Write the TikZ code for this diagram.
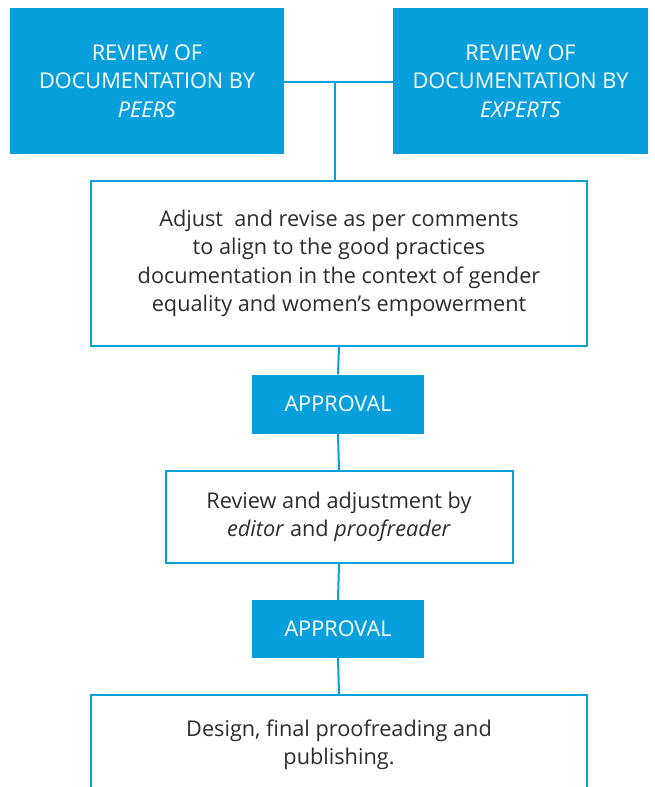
\documentclass[tikz,border=0pt]{standalone}
\usepackage{fontspec}
\setmainfont{Open Sans}
\definecolor{unblue}{RGB}{7,159,220}
\definecolor{ink}{RGB}{45,45,45}
\begin{document}
\begin{tikzpicture}[x=1pt,y=-1pt,
  bluebox/.style={fill=unblue,text=white,align=center,inner sep=0pt,
    font=\fontsize{21.7}{28.5}\selectfont},
  linebox/.style={draw=unblue,line width=2pt,fill=white,text=ink,align=center,inner sep=0pt,
    font=\fontsize{21.7}{28.5}\selectfont},
  link/.style={draw=unblue,line width=2pt}]
\useasboundingbox (0,0) rectangle (654,787);
\clip (0,0) rectangle (654,787);
\node[bluebox,minimum width=274pt,minimum height=146pt] (peers) at (147,81)
  {REVIEW OF\\DOCUMENTATION BY\\\textit{PEERS}};
\node[bluebox,minimum width=255pt,minimum height=146pt] (experts) at (520.5,81)
  {REVIEW OF\\DOCUMENTATION BY\\\textit{EXPERTS}};
\node[linebox,minimum width=496pt,minimum height=165pt] (adjust) at (339,263.5)
  {Adjust~ and revise as per comments\\to align to the good practices\\documentation in the context of gender\\equality and women’s empowerment};
\node[bluebox,minimum width=172pt,minimum height=59pt] (approvalA) at (338,404) {APPROVAL};
\node[linebox,minimum width=347pt,minimum height=92pt] (editor) at (339,517)
  {Review and adjustment by\\\textit{editor} and \textit{proofreader}};
\node[bluebox,minimum width=172pt,minimum height=58pt] (approvalB) at (338,629) {APPROVAL};
\node[linebox,minimum width=496pt,minimum height=100pt] (publish) at (339,745)
  {Design, final proofreading and\\publishing.};
\coordinate (hub) at (335,82);
\draw[link] (peers.east |- hub) -- (experts.west |- hub);
\draw[link] (hub) -- (hub |- adjust.north);
\draw[link] (adjust.south) -- (approvalA.north);
\draw[link] (approvalA.south) -- (editor.north);
\draw[link] (editor.south) -- (approvalB.north);
\draw[link] (approvalB.south) -- (publish.north);
\end{tikzpicture}
\end{document}
